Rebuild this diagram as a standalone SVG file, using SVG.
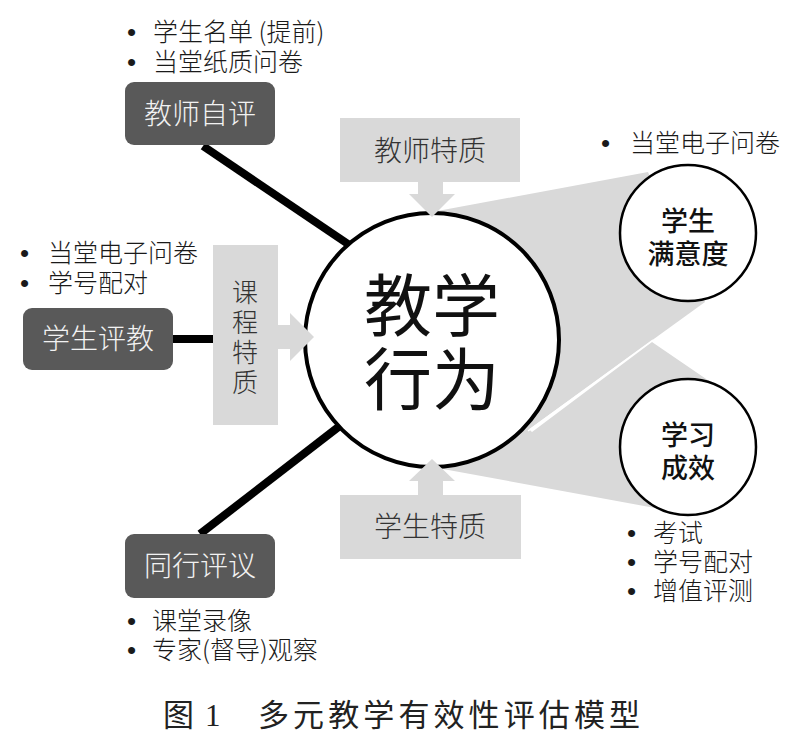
<svg xmlns="http://www.w3.org/2000/svg" width="798" height="738" viewBox="0 0 798 738">
<style>
.t{font-family:"Noto Sans CJK SC","Noto Sans",sans-serif;font-weight:300;fill:#1a1a1a}
.b{font-size:25px}
.bu{font-family:"Liberation Sans",sans-serif;font-size:26px;font-weight:400}
.dark{fill:#595959}
.light{fill:#d9d9d9}
.dl{font-size:28px;fill:#f2f2f2;text-anchor:middle}
.gl{font-size:28px;fill:#333;text-anchor:middle}
.vl{font-size:26px;fill:#333;text-anchor:middle}
.cl{font-size:27px;font-weight:500;fill:#111;text-anchor:middle}
.ml{font-size:68px;font-weight:400;fill:#111;text-anchor:middle}
.con{stroke:#000;stroke-width:8;fill:none}
</style>
<rect width="798" height="738" fill="#fff"/>
<g id="wedges">
<polygon class="light" points="432,212 648,172 705,302 528,430 432,340"/>
<polygon class="light" points="532,432 652,342 712,383 655,508 432,467 432,340"/>
<line x1="528" y1="431" x2="653" y2="340" stroke="#fff" stroke-width="1.5"/>
</g>
<g id="connectors">
<line class="con" x1="203" y1="146" x2="348" y2="244"/>
<line class="con" x1="200" y1="534" x2="341" y2="425"/>
<line class="con" x1="172" y1="339" x2="214" y2="339"/>
</g>
<g id="main">
<circle cx="432" cy="340" r="127" fill="#fff" stroke="#000" stroke-width="4"/>
<text class="t ml" x="432" y="331">教学</text>
<text class="t ml" x="432" y="405">行为</text>
</g>
<g id="satisfaction">
<circle cx="688" cy="233" r="68" fill="#fff" stroke="#000" stroke-width="2.5"/>
<text class="t cl" x="688" y="231">学生</text>
<text class="t cl" x="688" y="264">满意度</text>
</g>
<g id="outcome">
<circle cx="688" cy="447" r="68" fill="#fff" stroke="#000" stroke-width="2.5"/>
<text class="t cl" x="688" y="445">学习</text>
<text class="t cl" x="688" y="478">成效</text>
</g>
<g id="teacher-trait">
<rect class="light" x="340" y="118" width="180" height="64"/>
<polygon class="light" points="418,182 443,182 443,194 455,194 432,217 409,194 418,194"/>
<text class="t gl" x="430" y="161">教师特质</text>
</g>
<g id="student-trait">
<rect class="light" x="340" y="495" width="181" height="64"/>
<polygon class="light" points="418,495 443,495 443,481 455,481 432,459 409,481 418,481"/>
<text class="t gl" x="430" y="537">学生特质</text>
</g>
<g id="course-trait">
<rect class="light" x="213" y="245" width="65" height="180"/>
<polygon class="light" points="278,325 290,325 290,313 314,337 290,361 290,349 278,349"/>
<text class="t vl" x="245" y="302">课</text>
<text class="t vl" x="245" y="332">程</text>
<text class="t vl" x="245" y="362">特</text>
<text class="t vl" x="245" y="392">质</text>
</g>
<g id="teacher-self">
<rect class="dark" x="125" y="82" width="150" height="63" rx="9"/>
<text class="t dl" x="200" y="124">教师自评</text>
<text class="t b"><tspan class="bu" x="127" y="41">•</tspan><tspan x="153" y="41">学生名单 (提前)</tspan></text>
<text class="t b"><tspan class="bu" x="127" y="71">•</tspan><tspan x="153" y="71">当堂纸质问卷</tspan></text>
</g>
<g id="student-eval">
<rect class="dark" x="23" y="308" width="150" height="62" rx="9"/>
<text class="t dl" x="98" y="349">学生评教</text>
<text class="t b"><tspan class="bu" x="20" y="262">•</tspan><tspan x="48" y="262">当堂电子问卷</tspan></text>
<text class="t b"><tspan class="bu" x="20" y="292">•</tspan><tspan x="48" y="292">学号配对</tspan></text>
</g>
<g id="peer-eval">
<rect class="dark" x="125" y="534" width="150" height="64" rx="9"/>
<text class="t dl" x="200" y="576">同行评议</text>
<text class="t b"><tspan class="bu" x="127" y="630">•</tspan><tspan x="152" y="630">课堂录像</tspan></text>
<text class="t b"><tspan class="bu" x="127" y="659">•</tspan><tspan x="152" y="659">专家(督导)观察</tspan></text>
</g>
<g id="satisfaction-notes">
<text class="t b"><tspan class="bu" x="601" y="152">•</tspan><tspan x="630" y="152">当堂电子问卷</tspan></text>
</g>
<g id="outcome-notes">
<text class="t b"><tspan class="bu" x="627" y="542">•</tspan><tspan x="653" y="542">考试</tspan></text>
<text class="t b"><tspan class="bu" x="627" y="571">•</tspan><tspan x="653" y="571">学号配对</tspan></text>
<text class="t b"><tspan class="bu" x="627" y="600">•</tspan><tspan x="653" y="600">增值评测</tspan></text>
</g>
<g id="caption" font-family="'Liberation Serif','Noto Sans CJK SC',serif" font-size="31" fill="#222">
<text x="163" y="726">图</text>
<text x="205" y="726">1</text>
<text x="258" y="726" textLength="382" lengthAdjust="spacing">多元教学有效性评估模型</text>
</g>
</svg>
